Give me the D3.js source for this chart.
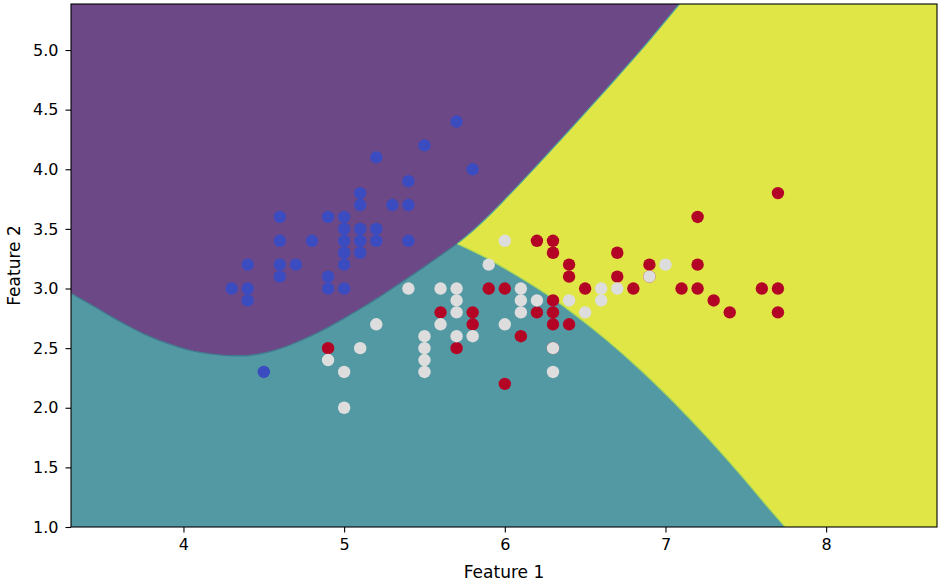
<!DOCTYPE html>
<html><head><meta charset="utf-8">
<script src="https://cdn.jsdelivr.net/npm/d3@7"></script>
<style>body{margin:0;background:#fff} text{font-family:"DejaVu Sans",sans-serif}</style>
</head><body><svg id="c" width="945" height="583"></svg>
<script>
const xLimits = [3.3, 8.69];
const yLimits = [1.0, 5.386];
const xTicks = [4, 5, 6, 7, 8];
const yTicks = [1.0, 1.5, 2.0, 2.5, 3.0, 3.5, 4.0, 4.5, 5.0];

const setosa = [[5.7,4.4],[5.5,4.2],[5.2,4.1],[5.8,4.0],[5.4,3.9],[5.1,3.8],[5.1,3.7],[5.3,3.7],[5.4,3.7],[4.6,3.6],[4.9,3.6],[5.0,3.6],[5.0,3.5],[5.1,3.5],[5.2,3.5],[4.6,3.4],[4.8,3.4],[5.0,3.4],[5.1,3.4],[5.2,3.4],[5.4,3.4],[5.0,3.3],[5.1,3.3],[4.4,3.2],[4.6,3.2],[4.7,3.2],[5.0,3.2],[4.6,3.1],[4.9,3.1],[4.3,3.0],[4.4,3.0],[4.9,3.0],[5.0,3.0],[4.4,2.9],[4.5,2.3]];
const versicolor = [[6.0,3.4],[5.9,3.2],[7.0,3.2],[6.9,3.1],[5.4,3.0],[5.6,3.0],[5.7,3.0],[6.1,3.0],[6.6,3.0],[6.7,3.0],[5.7,2.9],[6.1,2.9],[6.2,2.9],[6.4,2.9],[6.6,2.9],[5.7,2.8],[6.1,2.8],[6.5,2.8],[5.2,2.7],[5.6,2.7],[6.0,2.7],[5.5,2.6],[5.7,2.6],[5.8,2.6],[5.1,2.5],[5.5,2.5],[6.3,2.5],[4.9,2.4],[5.5,2.4],[5.0,2.3],[5.5,2.3],[6.3,2.3],[5.0,2.0]];
const virginica = [[7.7,3.8],[7.2,3.6],[6.2,3.4],[6.3,3.4],[6.3,3.3],[6.7,3.3],[6.4,3.2],[6.9,3.2],[7.2,3.2],[6.4,3.1],[6.7,3.1],[6.9,3.1],[5.9,3.0],[6.0,3.0],[6.5,3.0],[6.8,3.0],[7.1,3.0],[7.2,3.0],[7.6,3.0],[7.7,3.0],[6.3,2.9],[7.3,2.9],[5.6,2.8],[5.8,2.8],[6.2,2.8],[6.3,2.8],[7.4,2.8],[7.7,2.8],[5.8,2.7],[6.3,2.7],[6.4,2.7],[6.1,2.6],[4.9,2.5],[5.7,2.5],[6.3,2.5],[6.0,2.2]];

// decision boundaries (data units)
const purpleTealBoundary = [[3.30,2.960],[3.442,2.851],[3.546,2.768],[3.650,2.690],[3.753,2.620],[3.857,2.561],[3.961,2.513],[4.064,2.475],[4.168,2.451],[4.272,2.438],[4.375,2.436],[4.479,2.453],[4.583,2.488],[4.686,2.539],[4.790,2.600],[4.894,2.670],[4.997,2.748],[5.101,2.830],[5.205,2.917],[5.308,3.008],[5.412,3.102],[5.516,3.198],[5.619,3.296],[5.703,3.376]];
const purpleYellowBoundary = [[5.703,3.376],[5.806,3.491],[5.910,3.623],[6.014,3.766],[6.221,4.062],[6.428,4.366],[6.636,4.677],[6.843,4.992],[7.087,5.386]];
const yellowTealBoundary = [[5.703,3.376],[5.868,3.268],[5.972,3.190],[6.138,3.056],[6.283,2.930],[6.428,2.789],[6.636,2.565],[6.843,2.319],[7.050,2.048],[7.258,1.754],[7.465,1.441],[7.672,1.112],[7.745,1.0]];

const svg = d3.select("#c");
const x = d3.scaleLinear().domain(xLimits).range([71, 937]);
const y = d3.scaleLinear().domain(yLimits).range([527, 4]);

svg.append("defs").append("clipPath").attr("id","clip").append("rect")
  .attr("x",71).attr("y",4).attr("width",866).attr("height",523);

const g = svg.append("g").attr("clip-path","url(#clip)");
const curve = pts => d3.line().x(d=>x(d[0])).y(d=>y(d[1])).curve(d3.curveMonotoneX)(pts);
const cont = pts => curve(pts).replace(/^M/,"L");
const last = a => a[a.length-1];
const X0 = x(xLimits[0])-3, X1 = x(xLimits[1])+3, Y0 = y(yLimits[0])+3, Y1 = y(yLimits[1])-3;
const leftY = y(purpleTealBoundary[0][1]);

// yellow region (background)
g.append("rect").attr("x",X0).attr("y",Y1).attr("width",X1-X0).attr("height",Y0-Y1)
  .attr("fill","#dfe646");

// teal region
g.append("path")
  .attr("d", curve(purpleTealBoundary) + cont(yellowTealBoundary) +
     `L${x(last(yellowTealBoundary)[0])},${Y0}L${X0},${Y0}L${X0},${leftY}Z`)
  .attr("fill","#5399a4");

// purple region
g.append("path")
  .attr("d", curve(purpleTealBoundary) + cont(purpleYellowBoundary) +
     `L${x(last(purpleYellowBoundary)[0])},${Y1}L${X0},${Y1}L${X0},${leftY}Z`)
  .attr("fill","#6c4887");

// thin boundary bands
g.append("path").attr("d",curve(purpleTealBoundary)).attr("fill","none").attr("stroke","#40798f").attr("stroke-width",1.3);
g.append("path").attr("d",curve(purpleYellowBoundary)).attr("fill","none").attr("stroke","#4fa79a").attr("stroke-width",1.2);
g.append("path").attr("d",curve(yellowTealBoundary)).attr("fill","none").attr("stroke","#a6d65a").attr("stroke-width",1.2);

// points
const series = [[setosa,"#3b4cc0"],[virginica,"#b40426"],[versicolor,"#dddddd"]];
series.forEach(([data,color])=>{
  g.append("g").selectAll("circle").data(data).join("circle")
    .attr("cx",d=>x(d[0])).attr("cy",d=>y(d[1])).attr("r",6.2).attr("fill",color);
});

// frame
svg.append("rect").attr("x",71).attr("y",4).attr("width",866).attr("height",523)
  .attr("fill","none").attr("stroke","#000").attr("stroke-width",1.1);

// axes
const xa = svg.append("g").attr("transform","translate(0,527)")
  .call(d3.axisBottom(x).tickValues(xTicks).tickFormat(d3.format("d")).tickSize(5.5).tickPadding(6).tickSizeOuter(0));
const ya = svg.append("g").attr("transform","translate(71,0)")
  .call(d3.axisLeft(y).tickValues(yTicks).tickFormat(d3.format(".1f")).tickSize(5.5).tickPadding(7).tickSizeOuter(0));
[xa,ya].forEach(a=>{
  a.select(".domain").remove();
  a.selectAll("line").attr("stroke","#000").attr("stroke-width",1.1);
  a.selectAll("text").attr("fill","#000").style("font-size","16px").style("font-family","'DejaVu Sans', sans-serif");
});

svg.append("text").attr("x",(71+937)/2).attr("y",578).attr("text-anchor","middle")
  .style("font-size","17px").text("Feature 1");
svg.append("text").attr("transform",`translate(20,${(4+527)/2}) rotate(-90)`).attr("text-anchor","middle")
  .style("font-size","17px").text("Feature 2");
</script></body></html>
